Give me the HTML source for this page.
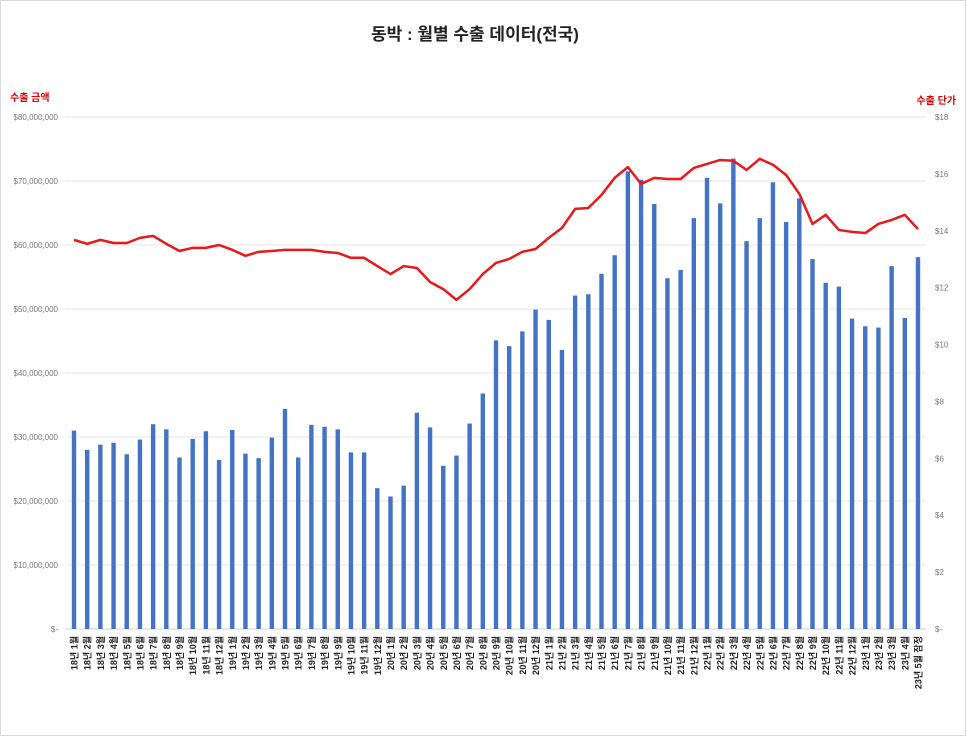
<!DOCTYPE html>
<html><head><meta charset="utf-8"><style>
body{margin:0;background:#fff;}
svg{display:block;font-family:"Liberation Sans","Noto Sans CJK KR",sans-serif;}
</style></head><body>
<svg id="chart" width="966" height="736">
<rect x="0.5" y="0.5" width="965" height="735" fill="#fff" stroke="#d9d9d9"/>
<text x="475" y="40" text-anchor="middle" font-size="17" font-weight="bold" fill="#222">동박 : 월별 수출 데이터(전국)</text>
<text x="10" y="101" font-size="10" font-weight="bold" fill="#e00000">수출 금액</text>
<text x="956" y="104" text-anchor="end" font-size="10" font-weight="bold" fill="#e00000">수출 단가</text>
<g id="grid"></g><g id="bars"></g><g id="line"></g><g id="xlabels"></g><g id="yl"></g><g id="yr"></g>
</svg>
<script>
const months=[];
for(let y=18;y<=23;y++){for(let m=1;m<=12;m++){if(y===23&&m>5)break;months.push(y+'년 '+m+'월'+(y===23&&m===5?' 잠정':''));}}
const amounts=[31.0,28.0,28.8,29.1,27.3,29.6,32.0,31.2,26.8,29.7,30.9,26.4,
31.1,27.4,26.7,29.9,34.4,26.8,31.9,31.6,31.2,27.6,27.6,22.0,
20.7,22.4,33.8,31.5,25.5,27.1,32.1,36.8,45.1,44.2,46.5,49.9,
48.3,43.6,52.1,52.3,55.5,58.4,71.5,70.2,66.4,54.8,56.1,64.2,
70.5,66.5,73.5,60.6,64.2,69.8,63.6,67.3,57.8,54.1,53.5,48.5,
47.3,47.1,56.7,48.6,58.1];
const prices=[13.68,13.54,13.68,13.57,13.57,13.75,13.82,13.54,13.29,13.4,13.4,13.5,
13.33,13.12,13.26,13.29,13.33,13.33,13.33,13.26,13.22,13.05,13.05,12.76,
12.48,12.76,12.69,12.2,11.95,11.57,11.95,12.48,12.87,13.01,13.26,13.36,
13.75,14.1,14.77,14.8,15.26,15.86,16.24,15.65,15.86,15.82,15.82,16.21,
16.35,16.49,16.46,16.14,16.53,16.32,15.96,15.3,14.24,14.56,14.03,13.96,
13.92,14.24,14.38,14.56,14.06];
const leftTicks=[0,10,20,30,40,50,60,70,80];
const rightTicks=[0,2,4,6,8,10,12,14,16,18];
const NS='http://www.w3.org/2000/svg';
const X0=65,X1=926,Y0=629,Y1=117;
const yL=v=>Y0-(v/80)*(Y0-Y1);
const yR=v=>Y0-(v/18)*(Y0-Y1);
const step=(918-74)/(months.length-1);
const xC=i=>74+i*step;
function mk(t,a,p){const e=document.createElementNS(NS,t);for(const k in a)e.setAttribute(k,a[k]);document.getElementById(p).appendChild(e);return e;}
leftTicks.forEach(v=>{
 const g=mk('line',{x1:X0,x2:X1,y1:yL(v),y2:yL(v),stroke:v===0?'#d0d0d0':'#e4e4e4','stroke-width':1},'grid');
 
 
 const t=mk('text',{x:58,y:yL(v)+3,'text-anchor':'end','font-size':8,fill:'#777'},'yl');
 t.textContent=v===0?'$-':'$'+(v*1000000).toLocaleString('en-US');
 
 
});
rightTicks.forEach(v=>{
 const t=mk('text',{x:935,y:yR(v)+3,'font-size':8,fill:'#777'},'yr');
 t.textContent=v===0?'$-':'$'+v;
 
 
});
amounts.forEach((v,i)=>{
 const r=mk('rect',{x:xC(i)-2.2,y:yL(v),width:4.4,height:Y0-yL(v),fill:'#4472c4'},'bars');
 
 
});
const pl=mk('polyline',{points:prices.map((v,i)=>xC(i)+','+yR(v)).join(' '),fill:'none',stroke:'#e8191c','stroke-width':2.5,'stroke-linejoin':'round'},'line');


months.forEach((m,i)=>{
 const t=mk('text',{x:0,y:0,'font-size':9,'font-weight':'bold',fill:'#222','text-anchor':'end',transform:'translate('+(xC(i)+3.5)+',636) rotate(-90)'},'xlabels');
 t.textContent=m;
 
 
});
</script>
</body></html>
